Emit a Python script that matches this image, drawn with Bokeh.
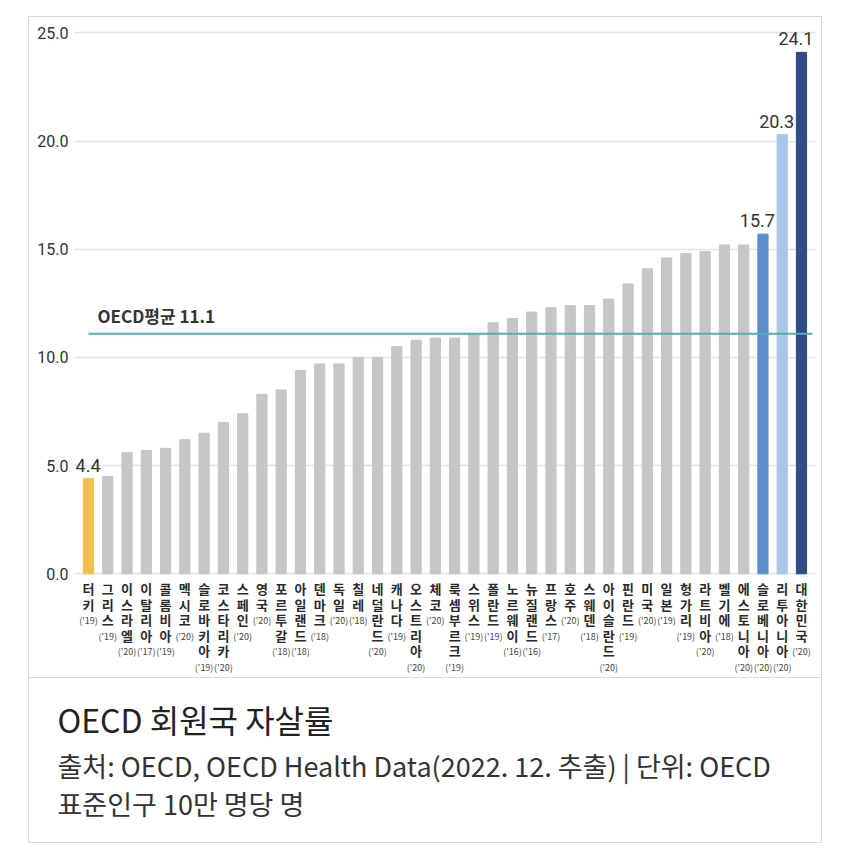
from bokeh.plotting import figure
from bokeh.models import (ColumnDataSource, FixedTicker, Range1d, NumeralTickFormatter,
                          LabelSet, Label)
from bokeh.layouts import column
from bokeh.embed import file_html
from bokeh.resources import INLINE
from bokeh.core.properties import value

countries = ["터키", "그리스", "이스라엘", "이탈리아", "콜롬비아", "멕시코", "슬로바키아", "코스타리카",
             "스페인", "영국", "포르투갈", "아일랜드", "덴마크", "독일", "칠레", "네덜란드", "캐나다",
             "오스트리아", "체코", "룩셈부르크", "스위스", "폴란드", "노르웨이", "뉴질랜드", "프랑스",
             "호주", "스웨덴", "아이슬란드", "핀란드", "미국", "일본", "헝가리", "라트비아", "벨기에",
             "에스토니아", "슬로베니아", "리투아니아", "대한민국"]
years = ["19", "19", "20", "17", "19", "20", "19", "20", "20", "20", "18", "18", "18", "20", "18",
         "20", "19", "20", "20", "19", "19", "19", "16", "16", "17", "20", "18", "20", "19", "20",
         "19", "19", "20", "18", "20", "20", "20", "20"]
rates = [4.4, 4.5, 5.6, 5.7, 5.8, 6.2, 6.5, 7.0, 7.4, 8.3, 8.5, 9.4, 9.7, 9.7, 10.0, 10.0, 10.5,
         10.8, 10.9, 10.9, 11.1, 11.6, 11.8, 12.1, 12.3, 12.4, 12.4, 12.7, 13.4, 14.1, 14.6, 14.8,
         14.9, 15.2, 15.2, 15.7, 20.3, 24.1]
oecd_avg = 11.1
y_ticks = [0, 5, 10, 15, 20, 25]
labeled = ["터키", "슬로베니아", "리투아니아", "대한민국"]
title_text = "OECD 회원국 자살률"
source_line1 = "출처: OECD, OECD Health Data(2022. 12. 추출) | 단위: OECD"
source_line2 = "표준인구 10만 명당 명"

highlight = {"터키": "#f1c04b", "슬로베니아": "#5b8fcb", "리투아니아": "#a9c6e6", "대한민국": "#2e4d86"}
GRAY = "#c6c6c6"
KFONT = "Noto Sans CJK KR"
NFONT = "Roboto"
BORDER = "#d9d9d9"

idx = list(range(len(countries)))
bar_src = ColumnDataSource(dict(x=idx, top=rates,
                                color=[highlight.get(c, GRAY) for c in countries]))

p = figure(width=792, height=660, x_range=Range1d(-0.7265, 37.727), y_range=Range1d(-4.79, 25.48),
           output_backend="svg", toolbar_location=None, x_axis_location=None,
           min_border_left=45, min_border_right=6, min_border_top=5, min_border_bottom=0,
           frame_align=False)
p.outline_line_color = None
p.border_fill_color = "white"
p.background_fill_color = "white"

p.yaxis.ticker = FixedTicker(ticks=y_ticks)
p.yaxis.formatter = NumeralTickFormatter(format="0.0")
p.yaxis.axis_line_color = None
p.yaxis.major_tick_line_color = None
p.yaxis.minor_tick_line_color = None
p.yaxis.major_tick_out = 0
p.yaxis.major_tick_in = 0
p.yaxis.major_label_standoff = 6
p.yaxis.major_label_text_font = NFONT
p.yaxis.major_label_text_font_size = "16px"
p.yaxis.major_label_text_color = "#333333"
p.ygrid.ticker = FixedTicker(ticks=y_ticks)
p.ygrid.grid_line_color = "#e2e2e2"
p.ygrid.grid_line_width = 1.5
p.xgrid.visible = False

p.vbar(x="x", top="top", width=0.53, color="color", source=bar_src)

# OECD average line and label
p.segment(x0=[idx[0]], y0=[oecd_avg], x1=[idx[-1] + 0.57], y1=[oecd_avg],
          line_color="#55adb1", line_width=2)
p.text(x=[idx[0]], y=[oecd_avg], text=[f"OECD평균 {oecd_avg}"], x_offset=9, y_offset=-6,
       text_baseline="bottom", text_align="left", text_font=value(KFONT),
       text_font_size="17px", text_font_style="bold", text_color="#333333")

# value labels
lab_x = [i for i, c in zip(idx, countries) if c in labeled]
lab_y = [r for r, c in zip(rates, countries) if c in labeled]
lab_src = ColumnDataSource(dict(x=lab_x, y=lab_y, t=[f"{v:.1f}" for v in lab_y]))
p.add_layout(LabelSet(x="x", y="y", text="t", source=lab_src, text_align="right",
                      text_baseline="bottom", x_offset=12, y_offset=7,
                      text_font=value(NFONT), text_font_size="18px", text_color="#333333"))

# vertical country labels
cx, ct, cdy, yx, yt, ydy = [], [], [], [], [], []
for i, name, yr in zip(idx, countries, years):
    for k, ch in enumerate(name):
        cx.append(i)
        ct.append(ch)
        cdy.append(15 + 15.5 * k)
    yx.append(i)
    yt.append(f"('{yr})")
    ydy.append(16 + 15.5 * len(name))
char_src = ColumnDataSource(dict(x=cx, y=[0] * len(cx), text=ct, dy=cdy))
year_src = ColumnDataSource(dict(x=yx, y=[0] * len(yx), text=yt, dy=ydy))
p.text(x="x", y="y", text="text", y_offset="dy", source=char_src, text_align="center",
       text_baseline="middle", text_font=value(KFONT), text_font_size="13px",
       text_font_style="bold", text_color="#2a2a2a")
p.text(x="x", y="y", text="text", y_offset="dy", source=year_src, text_align="center",
       text_baseline="middle", text_font=value(KFONT), text_font_size="9px",
       text_color="#444444")

# caption panel
c = figure(width=792, height=165, x_range=Range1d(0, 792), y_range=Range1d(0, 165),
           output_backend="svg", toolbar_location=None, x_axis_location=None,
           y_axis_location=None, min_border=0, frame_align=False,
           styles={"border-top": f"1px solid {BORDER}"})
c.outline_line_color = None
c.xgrid.visible = False
c.ygrid.visible = False
c.add_layout(Label(x=28, y=125, text=title_text, text_baseline="middle", text_font=KFONT,
                   text_font_size="32px", text_color="#222222"))
for yy, line in zip([78, 40], [source_line1, source_line2]):
    c.add_layout(Label(x=28, y=yy, text=line, text_baseline="middle", text_font=KFONT,
                       text_font_size="27px", text_color="#333333"))

layout = column(p, c, margin=(16, 0, 0, 28), spacing=0,
                styles={"border": f"1px solid {BORDER}"})

open("out.html", "w").write(file_html(layout, INLINE))
